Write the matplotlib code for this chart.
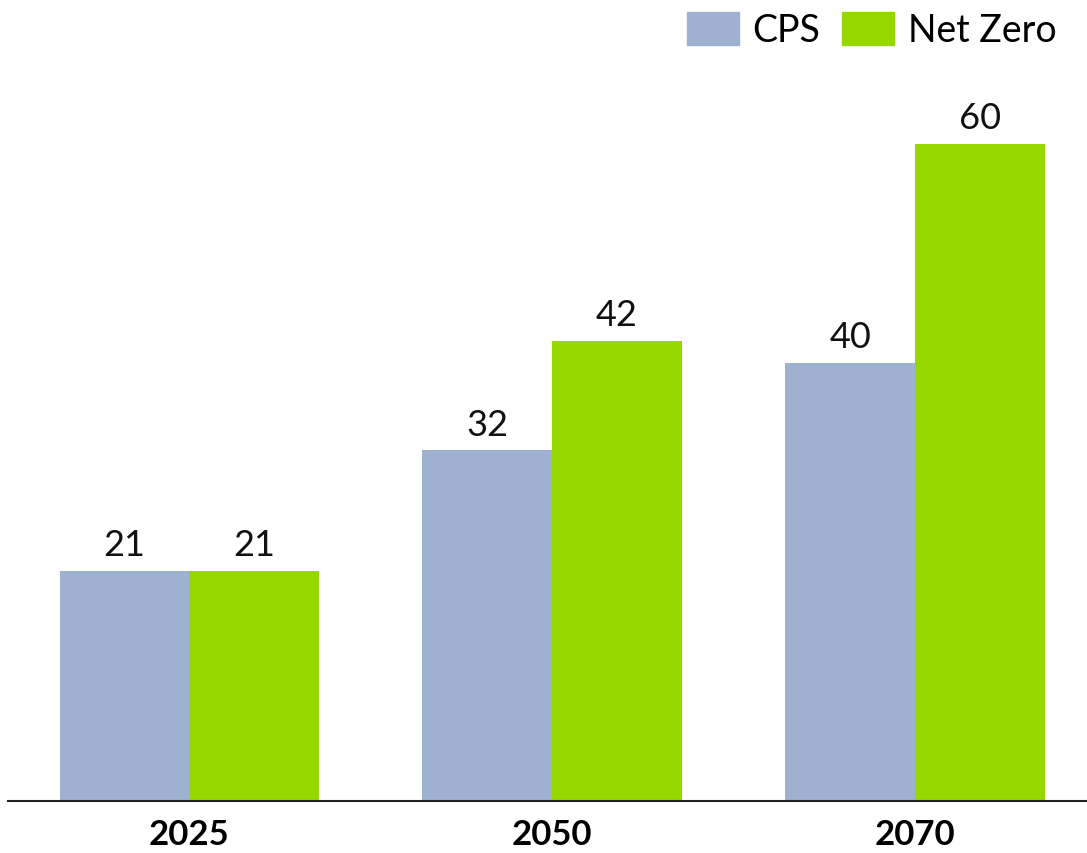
import matplotlib
matplotlib.use("Agg")
import matplotlib.pyplot as plt
import numpy as np
from matplotlib.patches import Patch

years = ["2025", "2050", "2070"]
cps = [21, 32, 40]
net_zero = [21, 42, 60]
series_names = ["CPS", "Net Zero"]
colors = ["#9FB1D0", "#97D700"]

plt.rcParams['font.family'] = ['Lato', 'DejaVu Sans']

fig = plt.figure(figsize=(10.87, 8.54), dpi=100)
ax = fig.add_axes([8/1087, 52/854, 1 - 8/1087, 802/854])

x = np.arange(len(years))
w = 0.357
b1 = ax.bar(x - w/2, cps, w, color=colors[0], linewidth=0)
b2 = ax.bar(x + w/2, net_zero, w, color=colors[1], linewidth=0)

for bars in (b1, b2):
    for r in bars:
        ax.text(r.get_x() + r.get_width()/2, r.get_height() + 0.9, f"{r.get_height():.0f}",
                ha="center", va="bottom", fontsize=26, color="#111111")

ax.set_xlim(-0.499, 2.474)
ax.set_ylim(0, 73.2)
ax.set_xticks(x)
ax.set_xticklabels(years, fontsize=25, fontweight="bold")
ax.tick_params(axis="x", length=0, pad=12)
ax.set_yticks([])
for s in ["top", "right", "left"]:
    ax.spines[s].set_visible(False)
ax.spines["bottom"].set_color("#222222")
ax.spines["bottom"].set_linewidth(1.5)

handles = [Patch(color=c) for c in colors]
fig.legend(handles, series_names, loc="upper right", bbox_to_anchor=(0.989, 1.007),
           ncol=2, frameon=False, fontsize=27, handlelength=1.39, handleheight=1.0,
           columnspacing=0.6, handletextpad=0.35, borderaxespad=0.1)

fig.savefig("out.png", dpi=100)
